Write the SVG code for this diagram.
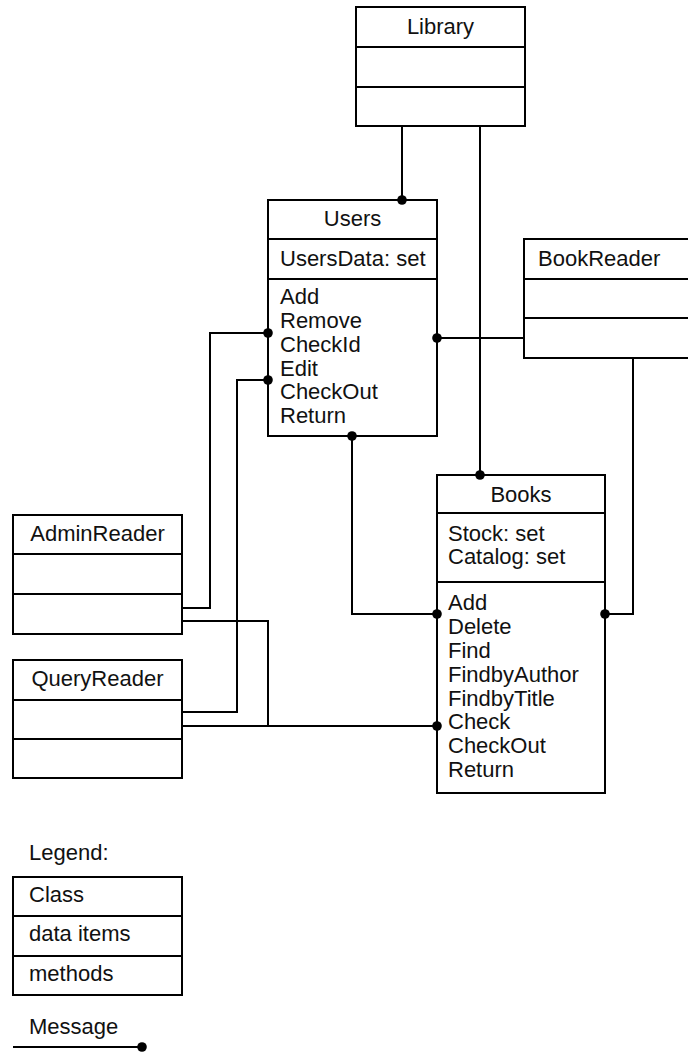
<svg xmlns="http://www.w3.org/2000/svg" width="688" height="1052" viewBox="0 0 688 1052">
<style>
.box{fill:#fff;stroke:#000;stroke-width:2}
.div{stroke:#000;stroke-width:2}
.conn{fill:none;stroke:#000;stroke-width:2}
.dot{fill:#000}
text{font-family:"Liberation Sans",Arial,sans-serif;font-size:22px;fill:#111}
.c{text-anchor:middle}
</style>
<rect width="688" height="1052" fill="#fff"/>
<g id="Library">
<rect class="box" x="356" y="7" width="169" height="119"/>
<line class="div" x1="356" y1="47" x2="525" y2="47"/>
<line class="div" x1="356" y1="87" x2="525" y2="87"/>
<text class="c" x="440.5" y="34">Library</text>
</g>
<g id="Users">
<rect class="box" x="268" y="200" width="169" height="236"/>
<line class="div" x1="268" y1="239" x2="437" y2="239"/>
<line class="div" x1="268" y1="279" x2="437" y2="279"/>
<text class="c" x="352.5" y="226">Users</text>
<text x="280" y="266">UsersData: set</text>
<text x="280" y="304">Add</text>
<text x="280" y="328">Remove</text>
<text x="280" y="352">CheckId</text>
<text x="280" y="376">Edit</text>
<text x="280" y="399">CheckOut</text>
<text x="280" y="423">Return</text>
</g>
<g id="BookReader">
<rect class="box" x="524" y="239" width="169" height="119"/>
<line class="div" x1="524" y1="279" x2="693" y2="279"/>
<line class="div" x1="524" y1="318" x2="693" y2="318"/>
<text x="538" y="266">BookReader</text>
</g>
<g id="Books">
<rect class="box" x="437" y="475" width="168" height="318"/>
<line class="div" x1="437" y1="513" x2="605" y2="513"/>
<line class="div" x1="437" y1="582" x2="605" y2="582"/>
<text class="c" x="521" y="502">Books</text>
<text x="448" y="541">Stock: set</text>
<text x="448" y="564">Catalog: set</text>
<text x="448" y="610">Add</text>
<text x="448" y="634">Delete</text>
<text x="448" y="658">Find</text>
<text x="448" y="682">FindbyAuthor</text>
<text x="448" y="706">FindbyTitle</text>
<text x="448" y="729">Check</text>
<text x="448" y="753">CheckOut</text>
<text x="448" y="777">Return</text>
</g>
<g id="AdminReader">
<rect class="box" x="13" y="515" width="169" height="119"/>
<line class="div" x1="13" y1="554" x2="182" y2="554"/>
<line class="div" x1="13" y1="594" x2="182" y2="594"/>
<text class="c" x="97.5" y="541">AdminReader</text>
</g>
<g id="QueryReader">
<rect class="box" x="13" y="660" width="169" height="118"/>
<line class="div" x1="13" y1="700" x2="182" y2="700"/>
<line class="div" x1="13" y1="739" x2="182" y2="739"/>
<text class="c" x="97.5" y="686">QueryReader</text>
</g>
<g id="connectors">
<polyline class="conn" points="402,126 402,200"/>
<polyline class="conn" points="480,126 480,475"/>
<polyline class="conn" points="524,338 437,338"/>
<polyline class="conn" points="633,358 633,614 605,614"/>
<polyline class="conn" points="352,436 352,614 437,614"/>
<polyline class="conn" points="182,608 210,608 210,333 268,333"/>
<polyline class="conn" points="182,712 237,712 237,380 268,380"/>
<polyline class="conn" points="182,621 268,621 268,726"/>
<polyline class="conn" points="182,726 437,726"/>
<circle class="dot" cx="402" cy="200" r="4.8"/>
<circle class="dot" cx="480" cy="475" r="4.8"/>
<circle class="dot" cx="437" cy="338" r="4.8"/>
<circle class="dot" cx="605" cy="614" r="4.8"/>
<circle class="dot" cx="352" cy="436" r="4.8"/>
<circle class="dot" cx="437" cy="614" r="4.8"/>
<circle class="dot" cx="268" cy="333" r="4.8"/>
<circle class="dot" cx="268" cy="380" r="4.8"/>
<circle class="dot" cx="437" cy="726" r="4.8"/>
</g>
<g id="legend">
<text x="29" y="860">Legend:</text>
<rect class="box" x="13" y="877" width="169" height="118"/>
<line class="div" x1="13" y1="916" x2="182" y2="916"/>
<line class="div" x1="13" y1="956" x2="182" y2="956"/>
<text x="29" y="902">Class</text>
<text x="29" y="941">data items</text>
<text x="29" y="981">methods</text>
<text x="29" y="1034">Message</text>
<line class="conn" x1="13" y1="1047" x2="142" y2="1047"/>
<circle class="dot" cx="142" cy="1047" r="4.8"/>
</g>
</svg>
